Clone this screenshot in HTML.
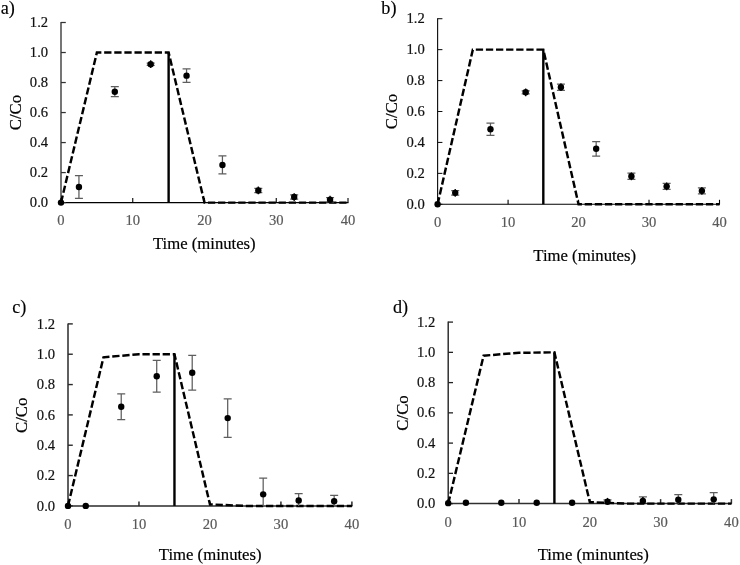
<!DOCTYPE html>
<html><head><meta charset="utf-8"><title>Figure</title>
<style>
html,body{margin:0;padding:0;background:#fff;}
body{width:740px;height:565px;overflow:hidden;font-family:"Liberation Serif",serif;}
svg{display:block;will-change:transform;}
text{font-family:"Liberation Serif",serif;}
.yt{font-size:14.6px;fill:#111;stroke:#111;stroke-width:0.2px;}
.xt{font-size:14.6px;fill:#595959;stroke:#595959;stroke-width:0.2px;}
.ti{font-size:16.7px;fill:#000;stroke:#000;stroke-width:0.2px;}
.lb{font-size:18.2px;fill:#000;stroke:#000;stroke-width:0.15px;}
</style></head><body>
<svg width="740" height="565" viewBox="0 0 740 565">
<rect width="740" height="565" fill="#fff"/>
<line x1="61.00" y1="22.00" x2="61.00" y2="202.60" stroke="#333" stroke-width="1.35"/>
<line x1="61.00" y1="202.60" x2="348.50" y2="202.60" stroke="#000" stroke-width="1.1"/>
<line x1="61.00" y1="202.60" x2="65.80" y2="202.60" stroke="#333" stroke-width="1.25"/>
<text x="48.10" y="207.20" text-anchor="end" class="yt">0.0</text>
<line x1="61.00" y1="172.58" x2="65.80" y2="172.58" stroke="#333" stroke-width="1.25"/>
<text x="48.10" y="177.18" text-anchor="end" class="yt">0.2</text>
<line x1="61.00" y1="142.57" x2="65.80" y2="142.57" stroke="#333" stroke-width="1.25"/>
<text x="48.10" y="147.17" text-anchor="end" class="yt">0.4</text>
<line x1="61.00" y1="112.55" x2="65.80" y2="112.55" stroke="#333" stroke-width="1.25"/>
<text x="48.10" y="117.15" text-anchor="end" class="yt">0.6</text>
<line x1="61.00" y1="82.53" x2="65.80" y2="82.53" stroke="#333" stroke-width="1.25"/>
<text x="48.10" y="87.13" text-anchor="end" class="yt">0.8</text>
<line x1="61.00" y1="52.52" x2="65.80" y2="52.52" stroke="#333" stroke-width="1.25"/>
<text x="48.10" y="57.12" text-anchor="end" class="yt">1.0</text>
<line x1="61.00" y1="22.50" x2="65.80" y2="22.50" stroke="#333" stroke-width="1.25"/>
<text x="48.10" y="27.10" text-anchor="end" class="yt">1.2</text>
<line x1="61.00" y1="202.60" x2="61.00" y2="198.10" stroke="#000" stroke-width="1.1"/>
<text x="61.00" y="225.00" text-anchor="middle" class="xt">0</text>
<line x1="132.75" y1="202.60" x2="132.75" y2="198.10" stroke="#000" stroke-width="1.1"/>
<text x="132.75" y="225.00" text-anchor="middle" class="xt">10</text>
<line x1="204.50" y1="202.60" x2="204.50" y2="198.10" stroke="#000" stroke-width="1.1"/>
<text x="204.50" y="225.00" text-anchor="middle" class="xt">20</text>
<line x1="276.25" y1="202.60" x2="276.25" y2="198.10" stroke="#000" stroke-width="1.1"/>
<text x="276.25" y="225.00" text-anchor="middle" class="xt">30</text>
<line x1="348.00" y1="202.60" x2="348.00" y2="198.10" stroke="#000" stroke-width="1.1"/>
<text x="348.00" y="225.00" text-anchor="middle" class="xt">40</text>
<polyline points="61.00,202.60 96.88,52.52 168.62,52.52 204.50,202.60 348.00,202.60" fill="none" stroke="#000" stroke-width="2.45" stroke-dasharray="7.3 2.8" stroke-linejoin="miter"/>
<line x1="168.62" y1="52.52" x2="168.62" y2="202.60" stroke="#000" stroke-width="2.4"/>
<circle cx="61.00" cy="202.60" r="3.2" fill="#000"/>
<path d="M78.94 175.74V198.40M74.94 175.74H82.94M74.94 198.40H82.94" stroke="#5e5e5e" stroke-width="1.25" fill="none"/>
<circle cx="78.94" cy="187.07" r="3.2" fill="#000"/>
<path d="M114.81 86.74V96.64M110.81 86.74H118.81M110.81 96.64H118.81" stroke="#5e5e5e" stroke-width="1.25" fill="none"/>
<circle cx="114.81" cy="91.69" r="3.2" fill="#000"/>
<path d="M150.69 63.02V65.42M146.69 63.02H154.69M146.69 65.42H154.69" stroke="#5e5e5e" stroke-width="1.25" fill="none"/>
<path d="M150.69 60.32V68.12" stroke="#000" stroke-width="1.3" fill="none"/>
<circle cx="150.69" cy="64.22" r="3.2" fill="#000"/>
<path d="M186.56 68.88V82.38M182.56 68.88H190.56M182.56 82.38H190.56" stroke="#5e5e5e" stroke-width="1.25" fill="none"/>
<circle cx="186.56" cy="75.63" r="3.2" fill="#000"/>
<path d="M222.44 155.92V173.93M218.44 155.92H226.44M218.44 173.93H226.44" stroke="#5e5e5e" stroke-width="1.25" fill="none"/>
<circle cx="222.44" cy="164.93" r="3.2" fill="#000"/>
<path d="M258.31 188.34V192.54M254.31 188.34H262.31M254.31 192.54H262.31" stroke="#5e5e5e" stroke-width="1.25" fill="none"/>
<path d="M258.31 186.54V194.34" stroke="#000" stroke-width="1.3" fill="none"/>
<circle cx="258.31" cy="190.44" r="3.2" fill="#000"/>
<path d="M294.19 194.95V199.15M290.19 194.95H298.19M290.19 199.15H298.19" stroke="#5e5e5e" stroke-width="1.25" fill="none"/>
<path d="M294.19 193.15V200.95" stroke="#000" stroke-width="1.3" fill="none"/>
<circle cx="294.19" cy="197.05" r="3.2" fill="#000"/>
<path d="M330.06 197.65V201.85M326.06 197.65H334.06M326.06 201.85H334.06" stroke="#5e5e5e" stroke-width="1.25" fill="none"/>
<path d="M330.06 195.85V202.60" stroke="#000" stroke-width="1.3" fill="none"/>
<circle cx="330.06" cy="199.75" r="3.2" fill="#000"/>
<text x="204.30" y="249.10" text-anchor="middle" class="ti">Time (minutes)</text>
<text transform="translate(20.70 112.60) rotate(-90)" text-anchor="middle" class="ti">C/Co</text>
<text x="0.80" y="13.90" class="lb">a)</text>
<line x1="437.60" y1="18.20" x2="437.60" y2="204.30" stroke="#111" stroke-width="1.15"/>
<line x1="437.60" y1="204.30" x2="720.00" y2="204.30" stroke="#000" stroke-width="1.1"/>
<line x1="437.60" y1="204.30" x2="442.40" y2="204.30" stroke="#111" stroke-width="1.0499999999999998"/>
<text x="424.70" y="208.90" text-anchor="end" class="yt">0.0</text>
<line x1="437.60" y1="173.37" x2="442.40" y2="173.37" stroke="#111" stroke-width="1.0499999999999998"/>
<text x="424.70" y="177.97" text-anchor="end" class="yt">0.2</text>
<line x1="437.60" y1="142.43" x2="442.40" y2="142.43" stroke="#111" stroke-width="1.0499999999999998"/>
<text x="424.70" y="147.03" text-anchor="end" class="yt">0.4</text>
<line x1="437.60" y1="111.50" x2="442.40" y2="111.50" stroke="#111" stroke-width="1.0499999999999998"/>
<text x="424.70" y="116.10" text-anchor="end" class="yt">0.6</text>
<line x1="437.60" y1="80.57" x2="442.40" y2="80.57" stroke="#111" stroke-width="1.0499999999999998"/>
<text x="424.70" y="85.17" text-anchor="end" class="yt">0.8</text>
<line x1="437.60" y1="49.63" x2="442.40" y2="49.63" stroke="#111" stroke-width="1.0499999999999998"/>
<text x="424.70" y="54.23" text-anchor="end" class="yt">1.0</text>
<line x1="437.60" y1="18.70" x2="442.40" y2="18.70" stroke="#111" stroke-width="1.0499999999999998"/>
<text x="424.70" y="23.30" text-anchor="end" class="yt">1.2</text>
<line x1="437.60" y1="204.30" x2="437.60" y2="199.80" stroke="#000" stroke-width="1.1"/>
<text x="437.60" y="226.70" text-anchor="middle" class="xt">0</text>
<line x1="508.08" y1="204.30" x2="508.08" y2="199.80" stroke="#000" stroke-width="1.1"/>
<text x="508.08" y="226.70" text-anchor="middle" class="xt">10</text>
<line x1="578.55" y1="204.30" x2="578.55" y2="199.80" stroke="#000" stroke-width="1.1"/>
<text x="578.55" y="226.70" text-anchor="middle" class="xt">20</text>
<line x1="649.02" y1="204.30" x2="649.02" y2="199.80" stroke="#000" stroke-width="1.1"/>
<text x="649.02" y="226.70" text-anchor="middle" class="xt">30</text>
<line x1="719.50" y1="204.30" x2="719.50" y2="199.80" stroke="#000" stroke-width="1.1"/>
<text x="719.50" y="226.70" text-anchor="middle" class="xt">40</text>
<polyline points="437.60,204.30 472.84,49.63 543.31,49.63 578.55,204.30 719.50,204.30" fill="none" stroke="#000" stroke-width="2.45" stroke-dasharray="7.3 2.8" stroke-linejoin="miter"/>
<line x1="543.31" y1="49.63" x2="543.31" y2="204.30" stroke="#000" stroke-width="2.4"/>
<circle cx="437.60" cy="204.30" r="3.2" fill="#000"/>
<path d="M455.22 190.53V195.17M451.22 190.53H459.22M451.22 195.17H459.22" stroke="#5e5e5e" stroke-width="1.25" fill="none"/>
<path d="M455.22 188.95V196.75" stroke="#000" stroke-width="1.3" fill="none"/>
<circle cx="455.22" cy="192.85" r="3.2" fill="#000"/>
<path d="M490.46 123.10V135.47M486.46 123.10H494.46M486.46 135.47H494.46" stroke="#5e5e5e" stroke-width="1.25" fill="none"/>
<circle cx="490.46" cy="129.29" r="3.2" fill="#000"/>
<path d="M525.69 90.77V93.87M521.69 90.77H529.69M521.69 93.87H529.69" stroke="#5e5e5e" stroke-width="1.25" fill="none"/>
<path d="M525.69 88.42V96.22" stroke="#000" stroke-width="1.3" fill="none"/>
<circle cx="525.69" cy="92.32" r="3.2" fill="#000"/>
<path d="M560.93 84.12V90.31M556.93 84.12H564.93M556.93 90.31H564.93" stroke="#5e5e5e" stroke-width="1.25" fill="none"/>
<path d="M560.93 83.32V91.12" stroke="#000" stroke-width="1.3" fill="none"/>
<circle cx="560.93" cy="87.22" r="3.2" fill="#000"/>
<path d="M596.17 141.51V156.04M592.17 141.51H600.17M592.17 156.04H600.17" stroke="#5e5e5e" stroke-width="1.25" fill="none"/>
<circle cx="596.17" cy="148.77" r="3.2" fill="#000"/>
<path d="M631.41 173.21V179.40M627.41 173.21H635.41M627.41 179.40H635.41" stroke="#5e5e5e" stroke-width="1.25" fill="none"/>
<path d="M631.41 172.41V180.21" stroke="#000" stroke-width="1.3" fill="none"/>
<circle cx="631.41" cy="176.31" r="3.2" fill="#000"/>
<path d="M666.64 183.27V189.45M662.64 183.27H670.64M662.64 189.45H670.64" stroke="#5e5e5e" stroke-width="1.25" fill="none"/>
<path d="M666.64 182.46V190.26" stroke="#000" stroke-width="1.3" fill="none"/>
<circle cx="666.64" cy="186.36" r="3.2" fill="#000"/>
<path d="M701.88 187.75V193.94M697.88 187.75H705.88M697.88 193.94H705.88" stroke="#5e5e5e" stroke-width="1.25" fill="none"/>
<path d="M701.88 186.94V194.74" stroke="#000" stroke-width="1.3" fill="none"/>
<circle cx="701.88" cy="190.84" r="3.2" fill="#000"/>
<text x="584.70" y="261.10" text-anchor="middle" class="ti">Time (minutes)</text>
<text transform="translate(397.40 111.50) rotate(-90)" text-anchor="middle" class="ti">C/Co</text>
<text x="381.30" y="13.50" class="lb">b)</text>
<line x1="68.00" y1="323.40" x2="68.00" y2="505.90" stroke="#2a2a2a" stroke-width="1.5"/>
<line x1="68.00" y1="505.90" x2="352.40" y2="505.90" stroke="#2a2a2a" stroke-width="1.5"/>
<line x1="68.00" y1="505.90" x2="72.80" y2="505.90" stroke="#2a2a2a" stroke-width="1.4"/>
<text x="55.10" y="510.50" text-anchor="end" class="yt">0.0</text>
<line x1="68.00" y1="475.57" x2="72.80" y2="475.57" stroke="#2a2a2a" stroke-width="1.4"/>
<text x="55.10" y="480.17" text-anchor="end" class="yt">0.2</text>
<line x1="68.00" y1="445.23" x2="72.80" y2="445.23" stroke="#2a2a2a" stroke-width="1.4"/>
<text x="55.10" y="449.83" text-anchor="end" class="yt">0.4</text>
<line x1="68.00" y1="414.90" x2="72.80" y2="414.90" stroke="#2a2a2a" stroke-width="1.4"/>
<text x="55.10" y="419.50" text-anchor="end" class="yt">0.6</text>
<line x1="68.00" y1="384.57" x2="72.80" y2="384.57" stroke="#2a2a2a" stroke-width="1.4"/>
<text x="55.10" y="389.17" text-anchor="end" class="yt">0.8</text>
<line x1="68.00" y1="354.23" x2="72.80" y2="354.23" stroke="#2a2a2a" stroke-width="1.4"/>
<text x="55.10" y="358.83" text-anchor="end" class="yt">1.0</text>
<line x1="68.00" y1="323.90" x2="72.80" y2="323.90" stroke="#2a2a2a" stroke-width="1.4"/>
<text x="55.10" y="328.50" text-anchor="end" class="yt">1.2</text>
<line x1="68.00" y1="505.90" x2="68.00" y2="501.40" stroke="#2a2a2a" stroke-width="1.5"/>
<text x="68.00" y="528.80" text-anchor="middle" class="xt">0</text>
<line x1="138.97" y1="505.90" x2="138.97" y2="501.40" stroke="#2a2a2a" stroke-width="1.5"/>
<text x="138.97" y="528.80" text-anchor="middle" class="xt">10</text>
<line x1="209.95" y1="505.90" x2="209.95" y2="501.40" stroke="#2a2a2a" stroke-width="1.5"/>
<text x="209.95" y="528.80" text-anchor="middle" class="xt">20</text>
<line x1="280.92" y1="505.90" x2="280.92" y2="501.40" stroke="#2a2a2a" stroke-width="1.5"/>
<text x="280.92" y="528.80" text-anchor="middle" class="xt">30</text>
<line x1="351.90" y1="505.90" x2="351.90" y2="501.40" stroke="#2a2a2a" stroke-width="1.5"/>
<text x="351.90" y="528.80" text-anchor="middle" class="xt">40</text>
<polyline points="68.00,505.90 103.49,357.27 138.97,354.23 174.46,354.23 209.95,504.38 245.44,505.90 351.90,505.90" fill="none" stroke="#000" stroke-width="2.45" stroke-dasharray="7.3 2.8" stroke-linejoin="miter"/>
<line x1="174.46" y1="354.23" x2="174.46" y2="505.90" stroke="#000" stroke-width="2.4"/>
<circle cx="68.00" cy="505.90" r="3.2" fill="#000"/>
<circle cx="85.74" cy="505.90" r="3.2" fill="#000"/>
<path d="M121.23 393.82V419.60M117.23 393.82H125.23M117.23 419.60H125.23" stroke="#5e5e5e" stroke-width="1.25" fill="none"/>
<circle cx="121.23" cy="406.71" r="3.2" fill="#000"/>
<path d="M156.72 360.30V392.15M152.72 360.30H160.72M152.72 392.15H160.72" stroke="#5e5e5e" stroke-width="1.25" fill="none"/>
<circle cx="156.72" cy="376.22" r="3.2" fill="#000"/>
<path d="M192.21 355.29V390.18M188.21 355.29H196.21M188.21 390.18H196.21" stroke="#5e5e5e" stroke-width="1.25" fill="none"/>
<circle cx="192.21" cy="372.74" r="3.2" fill="#000"/>
<path d="M227.69 398.82V437.35M223.69 398.82H231.69M223.69 437.35H231.69" stroke="#5e5e5e" stroke-width="1.25" fill="none"/>
<circle cx="227.69" cy="418.08" r="3.2" fill="#000"/>
<path d="M263.18 478.14V505.90M259.18 478.14H267.18" stroke="#5e5e5e" stroke-width="1.25" fill="none"/>
<circle cx="263.18" cy="494.37" r="3.2" fill="#000"/>
<path d="M298.67 493.61V505.90M294.67 493.61H302.67" stroke="#5e5e5e" stroke-width="1.25" fill="none"/>
<circle cx="298.67" cy="500.44" r="3.2" fill="#000"/>
<path d="M334.16 495.44V505.90M330.16 495.44H338.16" stroke="#5e5e5e" stroke-width="1.25" fill="none"/>
<circle cx="334.16" cy="501.20" r="3.2" fill="#000"/>
<text x="210.20" y="559.70" text-anchor="middle" class="ti">Time (minutes)</text>
<text transform="translate(27.30 415.30) rotate(-90)" text-anchor="middle" class="ti">C/Co</text>
<text x="12.30" y="312.60" class="lb">c)</text>
<line x1="448.20" y1="321.60" x2="448.20" y2="503.60" stroke="#222" stroke-width="1.4"/>
<line x1="448.20" y1="503.60" x2="731.90" y2="503.60" stroke="#303030" stroke-width="1.5"/>
<line x1="448.20" y1="503.60" x2="453.00" y2="503.60" stroke="#222" stroke-width="1.2999999999999998"/>
<text x="435.30" y="508.20" text-anchor="end" class="yt">0.0</text>
<line x1="448.20" y1="473.35" x2="453.00" y2="473.35" stroke="#222" stroke-width="1.2999999999999998"/>
<text x="435.30" y="477.95" text-anchor="end" class="yt">0.2</text>
<line x1="448.20" y1="443.10" x2="453.00" y2="443.10" stroke="#222" stroke-width="1.2999999999999998"/>
<text x="435.30" y="447.70" text-anchor="end" class="yt">0.4</text>
<line x1="448.20" y1="412.85" x2="453.00" y2="412.85" stroke="#222" stroke-width="1.2999999999999998"/>
<text x="435.30" y="417.45" text-anchor="end" class="yt">0.6</text>
<line x1="448.20" y1="382.60" x2="453.00" y2="382.60" stroke="#222" stroke-width="1.2999999999999998"/>
<text x="435.30" y="387.20" text-anchor="end" class="yt">0.8</text>
<line x1="448.20" y1="352.35" x2="453.00" y2="352.35" stroke="#222" stroke-width="1.2999999999999998"/>
<text x="435.30" y="356.95" text-anchor="end" class="yt">1.0</text>
<line x1="448.20" y1="322.10" x2="453.00" y2="322.10" stroke="#222" stroke-width="1.2999999999999998"/>
<text x="435.30" y="326.70" text-anchor="end" class="yt">1.2</text>
<line x1="448.20" y1="503.60" x2="448.20" y2="499.10" stroke="#303030" stroke-width="1.5"/>
<text x="448.20" y="526.50" text-anchor="middle" class="xt">0</text>
<line x1="519.00" y1="503.60" x2="519.00" y2="499.10" stroke="#303030" stroke-width="1.5"/>
<text x="519.00" y="526.50" text-anchor="middle" class="xt">10</text>
<line x1="589.80" y1="503.60" x2="589.80" y2="499.10" stroke="#303030" stroke-width="1.5"/>
<text x="589.80" y="526.50" text-anchor="middle" class="xt">20</text>
<line x1="660.60" y1="503.60" x2="660.60" y2="499.10" stroke="#303030" stroke-width="1.5"/>
<text x="660.60" y="526.50" text-anchor="middle" class="xt">30</text>
<line x1="731.40" y1="503.60" x2="731.40" y2="499.10" stroke="#303030" stroke-width="1.5"/>
<text x="731.40" y="526.50" text-anchor="middle" class="xt">40</text>
<polyline points="448.20,503.60 483.60,355.68 519.00,352.80 554.40,352.35 589.80,502.09 625.20,503.60 731.40,503.60" fill="none" stroke="#000" stroke-width="2.45" stroke-dasharray="7.3 2.8" stroke-linejoin="miter"/>
<line x1="554.40" y1="352.35" x2="554.40" y2="503.60" stroke="#000" stroke-width="2.4"/>
<circle cx="448.20" cy="503.15" r="3.2" fill="#000"/>
<circle cx="465.90" cy="502.69" r="3.2" fill="#000"/>
<circle cx="501.30" cy="502.69" r="3.2" fill="#000"/>
<circle cx="536.70" cy="502.69" r="3.2" fill="#000"/>
<circle cx="572.10" cy="502.69" r="3.2" fill="#000"/>
<path d="M607.50 499.97V503.60M603.50 499.97H611.50" stroke="#5e5e5e" stroke-width="1.25" fill="none"/>
<path d="M607.50 497.89V503.60" stroke="#000" stroke-width="1.3" fill="none"/>
<circle cx="607.50" cy="501.79" r="3.2" fill="#000"/>
<path d="M642.90 496.79V503.60M638.90 496.79H646.90" stroke="#5e5e5e" stroke-width="1.25" fill="none"/>
<path d="M642.90 496.98V503.60" stroke="#000" stroke-width="1.3" fill="none"/>
<circle cx="642.90" cy="500.88" r="3.2" fill="#000"/>
<path d="M678.30 494.53V503.60M674.30 494.53H682.30" stroke="#5e5e5e" stroke-width="1.25" fill="none"/>
<circle cx="678.30" cy="499.82" r="3.2" fill="#000"/>
<path d="M713.70 492.56V503.60M709.70 492.56H717.70" stroke="#5e5e5e" stroke-width="1.25" fill="none"/>
<circle cx="713.70" cy="499.37" r="3.2" fill="#000"/>
<text x="593.30" y="559.80" text-anchor="middle" class="ti">Time (minuntes)</text>
<text transform="translate(408.00 413.00) rotate(-90)" text-anchor="middle" class="ti">C/Co</text>
<text x="393.00" y="313.10" class="lb">d)</text>
</svg>
</body></html>
